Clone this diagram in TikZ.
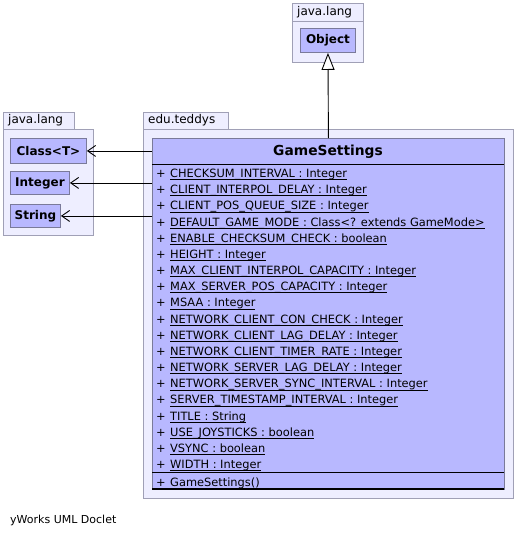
\documentclass[tikz,border=0pt]{standalone}
\usepackage{fontspec}
\setmainfont{DejaVu Sans}
\usetikzlibrary{arrows.meta}
\definecolor{pkgfill}{HTML}{EEEEFF}
\definecolor{pkgline}{HTML}{A0A0B6}
\definecolor{clsfill}{HTML}{B8B8FF}
\definecolor{clsline}{HTML}{7A7A9A}
% static members are underlined with a thin rule just under the baseline
\newcommand{\attr}[1]{\setbox0\hbox{#1}\rlap{\rule[-2.6pt]{\wd0}{0.8pt}}\box0}
\begin{document}
\begin{tikzpicture}[x=1pt,y=-1pt,
  pkgframe/.style={draw=pkgline, fill=pkgfill, line width=0.9pt},
  pkglabel/.style={anchor=west, inner sep=0pt, font=\fontsize{12}{14}\selectfont},
  smallcls/.style={draw=clsline, fill=clsfill, line width=0.9pt, anchor=north west,
    inner sep=0pt, font=\fontsize{12}{14}\selectfont\bfseries},
  member/.style={anchor=base west, inner sep=0pt, font=\fontsize{11.4}{13}\selectfont},
  plus/.style={anchor=base west, inner sep=0pt, font=\fontsize{11.4}{13}\selectfont},
  dep/.style={line width=0.9pt, -{Straight Barb[length=8pt,width=11pt,line width=0.9pt]}},
  inherit/.style={line width=0.9pt, -{Triangle[open,length=17pt,width=13pt,line width=0.9pt,fill=white]}}
]
\useasboundingbox (0,0) rectangle (515,536);

% package java.lang (top)
\draw[pkgframe] (292,3) rectangle (363,21);
\draw[pkgframe] (292,21) rectangle (363,62);
\node[pkglabel] (pkgA) at (297,12) {java.lang};
\node[smallcls, minimum width=55pt, minimum height=24pt] (obj) at (300,28) {Object};

% package java.lang (left)
\draw[pkgframe] (3,112) rectangle (74,129);
\draw[pkgframe] (3,129) rectangle (93,235);
\node[pkglabel] (pkgB) at (8,120.5) {java.lang};
\node[smallcls, minimum width=76pt, minimum height=25pt] (cls) at (10,138) {Class<T>};
\node[smallcls, minimum width=59pt, minimum height=23pt] (int) at (10,171) {Integer};
\node[smallcls, minimum width=50pt, minimum height=23pt] (str) at (10,204) {String};

% package edu.teddys
\draw[pkgframe] (143,112) rectangle (228,129);
\draw[pkgframe] (143,129) rectangle (513,498);
\node[pkglabel] (pkgC) at (148,120.5) {edu.teddys};

% class GameSettings
\node[draw=clsline, fill=clsfill, line width=0.9pt, anchor=north west, inner sep=0pt,
  minimum width=352pt, minimum height=351pt] (gs) at (152,138) {};
\node[font=\fontsize{13.8}{16}\selectfont\bfseries, inner sep=0pt] (gsname) at (328,151.5) {GameSettings};
\draw[line width=1pt] (152,164.5) -- (504,164.5);
\draw[line width=1pt] (152,472) -- (504,472);
\draw[line width=1.2pt] (152,489) -- (504,489);

\foreach \t [count=\i from 0] in {
  CHECKSUM\_INTERVAL : Integer,
  CLIENT\_INTERPOL\_DELAY : Integer,
  CLIENT\_POS\_QUEUE\_SIZE : Integer,
  DEFAULT\_GAME\_MODE : Class<? extends GameMode>,
  ENABLE\_CHECKSUM\_CHECK : boolean,
  HEIGHT : Integer,
  MAX\_CLIENT\_INTERPOL\_CAPACITY : Integer,
  MAX\_SERVER\_POS\_CAPACITY : Integer,
  MSAA : Integer,
  NETWORK\_CLIENT\_CON\_CHECK : Integer,
  NETWORK\_CLIENT\_LAG\_DELAY : Integer,
  NETWORK\_CLIENT\_TIMER\_RATE : Integer,
  NETWORK\_SERVER\_LAG\_DELAY : Integer,
  NETWORK\_SERVER\_SYNC\_INTERVAL : Integer,
  SERVER\_TIMESTAMP\_INTERVAL : Integer,
  TITLE : String,
  USE\_JOYSTICKS : boolean,
  VSYNC : boolean,
  WIDTH : Integer} {
  \node[plus] (p\i) at (156,177.5+16.17*\i) {+};
  \node[member] (m\i) at (170,177.5+16.17*\i) {\attr{\t}};
}
\node[plus] (pc) at (156,486) {+};
\node[member] (ctor) at (170,486) {GameSettings()};

% connectors
\draw[dep] (gs.west |- cls.east) -- (cls.east);
\draw[dep] (gs.west |- int.east) -- (int.east);
\draw[dep] (gs.west |- str.east) -- (str.east);
\draw[inherit] (gs.north) -- (obj.south);

% footer
\node[anchor=west, inner sep=0pt, font=\fontsize{11}{13}\selectfont] (footer) at (10,520) {yWorks UML Doclet};
\end{tikzpicture}
\end{document}
